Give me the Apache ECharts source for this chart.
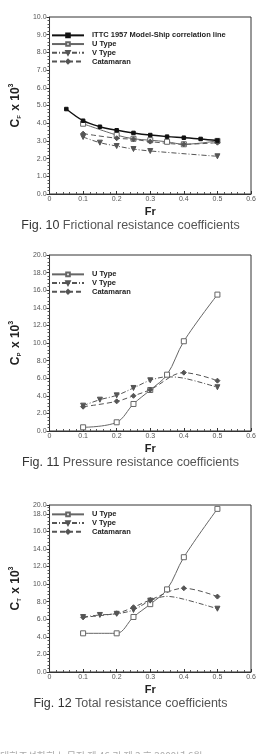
<!DOCTYPE html>
<html><head><meta charset="utf-8">
<script src="https://cdn.jsdelivr.net/npm/echarts@6/dist/echarts.min.js"></script>
<style>html,body{margin:0;padding:0;background:#fff}#c{width:261px;height:754px}</style>
</head><body><div id="c"></div>
<script>
// ---- data ----
const xTickLabels = ['0','0.1','0.2','0.3','0.4','0.5','0.6'];
const yTickLabels1 = ['0.0','1.0','2.0','3.0','4.0','5.0','6.0','7.0','8.0','9.0','10.0'];
const yTickLabels2 = ['0.0','2.0','4.0','6.0','8.0','10.0','12.0','14.0','16.0','18.0','20.0'];
const yTickLabels3 = ['0.0','2.0','4.0','6.0','8.0','10.0','12.0','14.0','16.0','18.0','20.0'];

// Fig.10 frictional
const ittcFr = [0.05,0.1,0.15,0.2,0.25,0.3,0.35,0.4,0.45,0.5];
const ittcCF = [4.8,4.14,3.8,3.6,3.45,3.33,3.24,3.18,3.11,3.02];
const uFr = [0.1,0.2,0.25,0.3,0.35,0.4,0.5];
const uCF = [3.97,3.33,3.12,3.04,2.95,2.81,3.0];
const vFr = [0.1,0.15,0.2,0.25,0.3,0.5];
const vCF = [3.22,2.9,2.71,2.54,2.43,2.13];
const catFr = [0.1,0.2,0.25,0.3,0.4,0.5];
const catCF = [3.41,3.15,3.09,2.96,2.81,2.9];

// Fig.11 pressure
const uCP = [0.42,0.99,3.07,4.66,6.4,10.2,15.5];
const vFrP = [0.1,0.15,0.2,0.25,0.3,0.35,0.4,0.5];
const vCP = [2.88,3.56,4.05,4.89,5.76,6.15,6.0,4.97];
const vCPshown = [true,true,true,true,true,false,false,true];
const catFrP = [0.1,0.2,0.25,0.3,0.4,0.5];
const catCP = [2.76,3.37,4.0,4.7,6.63,5.72];

// Fig.12 total
const uCT = [4.4,4.4,6.26,7.72,9.4,13.06,18.56];
const vFrT = [0.1,0.15,0.2,0.25,0.3,0.35,0.4,0.5];
const vCT = [6.25,6.49,6.62,7.06,8.12,8.6,8.28,7.2];
const vCTshown = [true,true,true,true,true,false,false,true];
const catFrT = [0.1,0.2,0.25,0.3,0.4,0.5];
const catCT = [6.23,6.68,7.37,8.2,9.53,8.58];

const captions = [
  ['Fig. 10','Frictional resistance coefficients'],
  ['Fig. 11','Pressure resistance coefficients'],
  ['Fig. 12','Total resistance coefficients']
];
const footer = '대한조선학회 논문집 제 46 권 제 3 호 2009년 6월';

// ---- build ----
const pairs = (xs, ys, shown) => xs.map((x,i)=> (shown && !shown[i]) ? {value:[x,ys[i]], symbol:'none'} : [x,ys[i]]);
const FONT = 'Liberation Sans, Arial, sans-serif';

const grids = [
  {left:43, right:10, top:17, height:177},
  {left:43, right:10, top:255, height:176},
  {left:43, right:10, top:505, height:167}
];
const yMeta = [
  {max:10, interval:1, labels:yTickLabels1, step:1, sub:'F'},
  {max:20, interval:2, labels:yTickLabels2, step:2, sub:'P'},
  {max:19, interval:2, labels:yTickLabels3, step:2, sub:'T'}
];

const xAxes = grids.map((g,i)=>({
  gridIndex:i, type:'value', min:0, max:0.6, interval:0.1,
  name:'Fr', nameLocation:'middle', nameGap:12,
  nameTextStyle:{fontFamily:FONT, fontWeight:'bold', fontSize:11, color:'#222'},
  axisLine:{onZero:false, lineStyle:{color:'#333', width:1}},
  axisTick:{inside:true, length:3, lineStyle:{color:'#333'}},
  minorTick:{show:true, splitNumber:5, length:2, lineStyle:{color:'#555'}},
  splitLine:{show:false},
  axisLabel:{fontFamily:FONT, fontSize:7, color:'#555', margin:2,
    formatter:v=>xTickLabels[Math.round(v*10)]}
}));

const yAxes = yMeta.map((m,i)=>({
  gridIndex:i, type:'value', min:0, max:m.max, interval:m.interval,
  name:'{c|C}{s|'+m.sub+'}{c| x 10}{p|3}', nameLocation:'middle', nameGap:18, nameRotate:90,
  nameTextStyle:{rich:{
    c:{fontFamily:FONT, fontWeight:'bold', fontSize:12, color:'#222', verticalAlign:'bottom', lineHeight:14},
    s:{fontFamily:FONT, fontWeight:'bold', fontSize:6, color:'#222', verticalAlign:'bottom', lineHeight:14, padding:[0,1,0,0]},
    p:{fontFamily:FONT, fontWeight:'bold', fontSize:7, color:'#222', verticalAlign:'top', lineHeight:14, padding:[0,0,6,0]}
  }},
  axisLine:{show:true, lineStyle:{color:'#333', width:1}},
  axisTick:{show:true, length:3, lineStyle:{color:'#333'}},
  minorTick:{show:true, splitNumber:5, length:2, lineStyle:{color:'#555'}},
  splitLine:{show:false},
  axisLabel:{fontFamily:FONT, fontSize:7, color:'#555', margin:3, showMaxLabel:true,
    formatter:v=> (i===2 && v===m.max) ? m.labels[m.labels.length-1] : m.labels[Math.round(v/m.step)]}
}));

const ittcStyle = {color:'#111', lw:1.4, type:'solid', symbol:'rect', size:3.5, fill:'#111'};
const uStyle = {color:'#666', lw:1, type:'solid', symbol:'rect', size:5, fill:'#fff'};
const vStyle = {color:'#555', lw:1, type:[5,2,1,2], symbol:'triangle', size:5, fill:'#555', rotate:180};
const catStyle = {color:'#555', lw:1, type:[5,3], symbol:'diamond', size:5, fill:'#555'};

function mk(name, data, gi, st){
  return {
    type:'line', name, xAxisIndex:gi, yAxisIndex:gi, data,
    smooth:0.35, symbol:st.symbol, symbolSize:st.size, symbolRotate:st.rotate||0,
    showAllSymbol:true,
    lineStyle:{color:st.color, width:st.lw, type:st.type},
    itemStyle:{color:st.fill, borderColor:st.color, borderWidth:1},
    emphasis:{disabled:true}, animation:false, z:st===ittcStyle?3:2
  };
}

const series = [
  mk('ITTC 1957 Model-Ship correlation line', pairs(ittcFr, ittcCF), 0, ittcStyle),
  mk('U Type', pairs(uFr, uCF), 0, uStyle),
  mk('V Type', pairs(vFr, vCF), 0, vStyle),
  mk('Catamaran', pairs(catFr, catCF), 0, catStyle),
  mk('U Type', pairs(uFr, uCP), 1, uStyle),
  mk('V Type', pairs(vFrP, vCP, vCPshown), 1, vStyle),
  mk('Catamaran', pairs(catFrP, catCP), 1, catStyle),
  mk('U Type', pairs(uFr, uCT), 2, uStyle),
  mk('V Type', pairs(vFrT, vCT, vCTshown), 2, vStyle),
  mk('Catamaran', pairs(catFrT, catCT), 2, catStyle)
];

const legTops = [31, 270, 510];
const legends = legTops.map((t,i)=>({
  orient:'vertical', left:51, top:t, itemWidth:32, itemHeight:4.5, itemGap:0,
  selectedMode:false, padding:0,
  data: i===0 ? ['ITTC 1957 Model-Ship correlation line','U Type','V Type','Catamaran'] : ['U Type','V Type','Catamaran'],
  textStyle:{fontFamily:FONT, fontSize:7.5, fontWeight:'bold', color:'#222', lineHeight:8.7, padding:[0,0,0,3]}
}));

const capY = [226, 463, 704];
const graphics = captions.map((c,i)=>({
  type:'text', left:'center', top:capY[i]-7,
  style:{text:'{a|'+c[0]+'} {b|'+c[1]+'}', rich:{
    a:{fontFamily:FONT, fontSize:12.5, fill:'#333'},
    b:{fontFamily:FONT, fontSize:12.5, fill:'#555'}
  }}
}));
graphics.push({type:'text', left:0, top:751, style:{text:footer, fontFamily:'Noto Sans CJK KR', fontSize:10, fill:'#aaa'}});

const chart = echarts.init(document.getElementById('c'), null, {renderer:'canvas'});
chart.setOption({
  backgroundColor:'#fff', animation:false,
  grid: grids.map(g=>Object.assign({show:true, borderColor:'#333', borderWidth:1, backgroundColor:'transparent'}, g)),
  xAxis:xAxes, yAxis:yAxes, legend:legends, series, graphic:graphics
});
</script></body></html>
